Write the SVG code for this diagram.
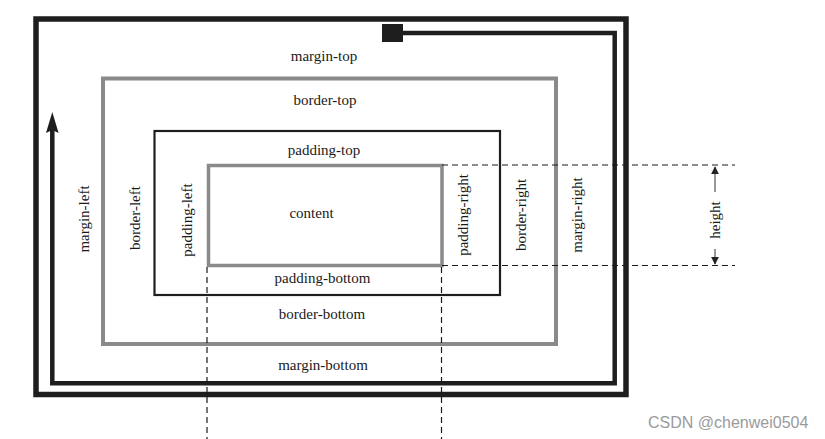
<svg xmlns="http://www.w3.org/2000/svg" width="825" height="439" viewBox="0 0 825 439">
<style>
.lbl{font-family:"Liberation Serif","Times New Roman",serif;font-size:15px;fill:#1a1a1a;text-anchor:middle}
.v{dominant-baseline:central}
.dash{stroke:#1a1a1a;stroke-width:1.2;stroke-dasharray:6 4;fill:none}
.wm{font-family:"Liberation Sans",Arial,sans-serif;font-size:16px;fill:#9a9a9a}
</style>
<defs>
<marker id="ah" viewBox="0 0 10 10" refX="9" refY="5" markerWidth="8" markerHeight="8" markerUnits="userSpaceOnUse" orient="auto">
<path d="M0,0 L10,5 L0,10 Z" fill="#222"/>
</marker>
</defs>
<rect width="825" height="439" fill="#fff"/>
<g id="margin">
<rect x="36" y="19" width="590" height="375.5" fill="none" stroke="#1e1e1e" stroke-width="5.5"/>
<rect x="382" y="24" width="21" height="18" fill="#1e1e1e"/>
<text class="lbl" x="324" y="61">margin-top</text>
<text class="lbl" x="323" y="370">margin-bottom</text>
<text class="lbl v" transform="translate(84,219) rotate(-90)">margin-left</text>
<text class="lbl v" transform="translate(577,215) rotate(-90)">margin-right</text>
</g>
<g id="border">
<rect x="103" y="78.5" width="453" height="265.5" fill="none" stroke="#8a8a8a" stroke-width="4"/>
<text class="lbl" x="325" y="105">border-top</text>
<text class="lbl" x="322" y="319">border-bottom</text>
<text class="lbl v" transform="translate(135,218) rotate(-90)">border-left</text>
<text class="lbl v" transform="translate(521,215) rotate(-90)">border-right</text>
</g>
<g id="padding">
<rect x="154.5" y="131" width="345.5" height="164" fill="none" stroke="#1e1e1e" stroke-width="2.2"/>
<text class="lbl" x="324" y="155">padding-top</text>
<text class="lbl" x="322.5" y="283">padding-bottom</text>
<text class="lbl v" transform="translate(187,220) rotate(-90)">padding-left</text>
<text class="lbl v" transform="translate(463,215) rotate(-90)">padding-right</text>
</g>
<g id="content">
<rect x="208.5" y="165.5" width="233.5" height="100" fill="none" stroke="#8a8a8a" stroke-width="3.5"/>
<text class="lbl" x="311.5" y="218">content</text>
</g>
<g id="connectors">
<path d="M403,33 H614.7 V383.3 H52.3 V128" fill="none" stroke="#1e1e1e" stroke-width="4.5"/>
<path d="M52.3,112 L46,133 L52.3,130 L58.6,133 Z" fill="#1e1e1e"/>
<line class="dash" x1="442" y1="165" x2="735" y2="165"/>
<line class="dash" x1="442" y1="265.5" x2="735" y2="265.5"/>
<line class="dash" x1="207" y1="267" x2="207" y2="439"/>
<line class="dash" x1="441.5" y1="267" x2="441.5" y2="439"/>
<line x1="715" y1="192" x2="715" y2="167" stroke="#555" stroke-width="1.2" marker-end="url(#ah)"/>
<line x1="715" y1="249" x2="715" y2="264" stroke="#555" stroke-width="1.2" marker-end="url(#ah)"/>
</g>
<g id="height">
<text class="lbl v" transform="translate(715,220) rotate(-90)">height</text>
</g>
<text class="wm" x="648" y="428">CSDN @chenwei0504</text>
</svg>
